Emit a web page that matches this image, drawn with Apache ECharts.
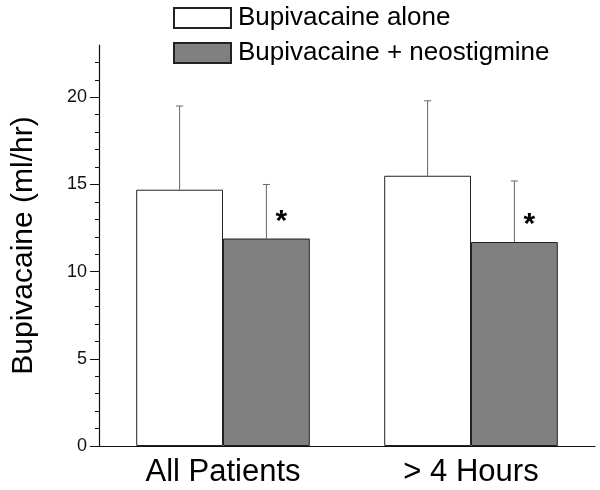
<!DOCTYPE html>
<html>
<head>
<meta charset="utf-8">
<script src="https://cdn.jsdelivr.net/npm/echarts@6/dist/echarts.min.js"></script>
<style>
  html, body { margin: 0; padding: 0; background: #fff; }
  #chart { width: 600px; height: 490px; }
</style>
</head>
<body>
<div id="chart"></div>
<script>
  // data
  const categories = ['All Patients', '> 4 Hours'];
  const aloneMean = [14.7, 15.5];
  const aloneSD = [4.8, 4.3];
  const neoMean = [11.9, 11.7];
  const neoSD = [3.1, 3.5];
  const sigMarks = ['*', '*'];
  const yMajorTicks = [0, 5, 10, 15, 20];
  const yMinorTicks = [1, 2, 3, 4, 6, 7, 8, 9, 11, 12, 13, 14, 16, 17, 18, 19, 21, 22];

  const FONT = '"Liberation Sans", Arial, sans-serif';
  const chart = echarts.init(document.getElementById('chart'));

  // error bar (upper only) drawn at the centre of each bar
  function errBar(side) {
    return function (params, api) {
      const i = api.value(0);
      const top = api.coord([i, api.value(1) + api.value(2)]);
      const base = api.coord([i, api.value(1)]);
      const band = api.size([1, 0])[0];
      const x = base[0] + side * band * 0.175;
      const cap = 3.5;
      const style = { stroke: '#666', lineWidth: 1 };
      return {
        type: 'group',
        children: [
          { type: 'line', shape: { x1: x, y1: base[1], x2: x, y2: top[1] }, style },
          { type: 'line', shape: { x1: x - cap, y1: top[1], x2: x + cap, y2: top[1] }, style }
        ]
      };
    };
  }

  const option = {
    backgroundColor: '#fff',
    animation: false,
    textStyle: { fontFamily: FONT },
    legend: {
      orient: 'vertical',
      left: 173,
      top: 5,
      padding: 0,
      itemWidth: 57,
      itemHeight: 20,
      itemGap: 9,
      icon: 'rect',
      selectedMode: false,
      data: ['Bupivacaine alone', 'Bupivacaine + neostigmine'],
      textStyle: { fontFamily: FONT, fontSize: 26, color: '#000', lineHeight: 24, padding: [0, 0, 0, 2] }
    },
    grid: { left: 99, right: 5, top: 45, bottom: 44, containLabel: false, outerBoundsMode: 'none' },
    xAxis: {
      type: 'category',
      data: categories,
      boundaryGap: true,
      axisLine: { lineStyle: { color: '#111', width: 1.2 } },
      axisTick: { alignWithLabel: true, length: 9, lineStyle: { color: '#111' } },
      axisLabel: { fontFamily: FONT, fontSize: 31, color: '#000', margin: 11 }
    },
    yAxis: [
      {
        type: 'value',
        min: 0,
        max: 23,
        name: 'Bupivacaine (ml/hr)',
        nameLocation: 'middle',
        nameGap: 60,
        nameRotate: 90,
        nameTextStyle: { fontFamily: FONT, fontSize: 30, color: '#000' },
        splitLine: { show: false },
        axisLine: { show: true, lineStyle: { color: '#111', width: 1.2 } },
        axisTick: { show: true, length: 9, customValues: yMajorTicks, lineStyle: { color: '#111' } },
        axisLabel: { customValues: yMajorTicks, fontFamily: FONT, fontSize: 18, color: '#111', margin: 12 }
      },
      {
        type: 'value',
        min: 0,
        max: 23,
        position: 'left',
        splitLine: { show: false },
        axisLine: { show: false },
        axisTick: { show: true, length: 4, customValues: yMinorTicks, lineStyle: { color: '#111' } },
        axisLabel: { show: false }
      }
    ],
    series: [
      {
        name: 'Bupivacaine alone',
        type: 'bar',
        data: aloneMean,
        barGap: '0%',
        barCategoryGap: '30%',
        itemStyle: { color: '#ffffff', borderColor: '#222', borderWidth: 1 }
      },
      {
        name: 'Bupivacaine + neostigmine',
        type: 'bar',
        data: neoMean,
        itemStyle: { color: '#808080', borderColor: '#222', borderWidth: 1 },
        label: {
          show: true,
          position: 'top',
          distance: 2,
          offset: [15, 0],
          formatter: p => sigMarks[p.dataIndex],
          fontFamily: FONT,
          fontSize: 30,
          fontWeight: 'bold',
          color: '#000'
        }
      },
      {
        type: 'custom',
        renderItem: errBar(-1),
        data: aloneMean.map((m, i) => [i, m, aloneSD[i]]),
        z: 3
      },
      {
        type: 'custom',
        renderItem: errBar(1),
        data: neoMean.map((m, i) => [i, m, neoSD[i]]),
        z: 3
      }
    ]
  };
  chart.setOption(option);
</script>
</body>
</html>
